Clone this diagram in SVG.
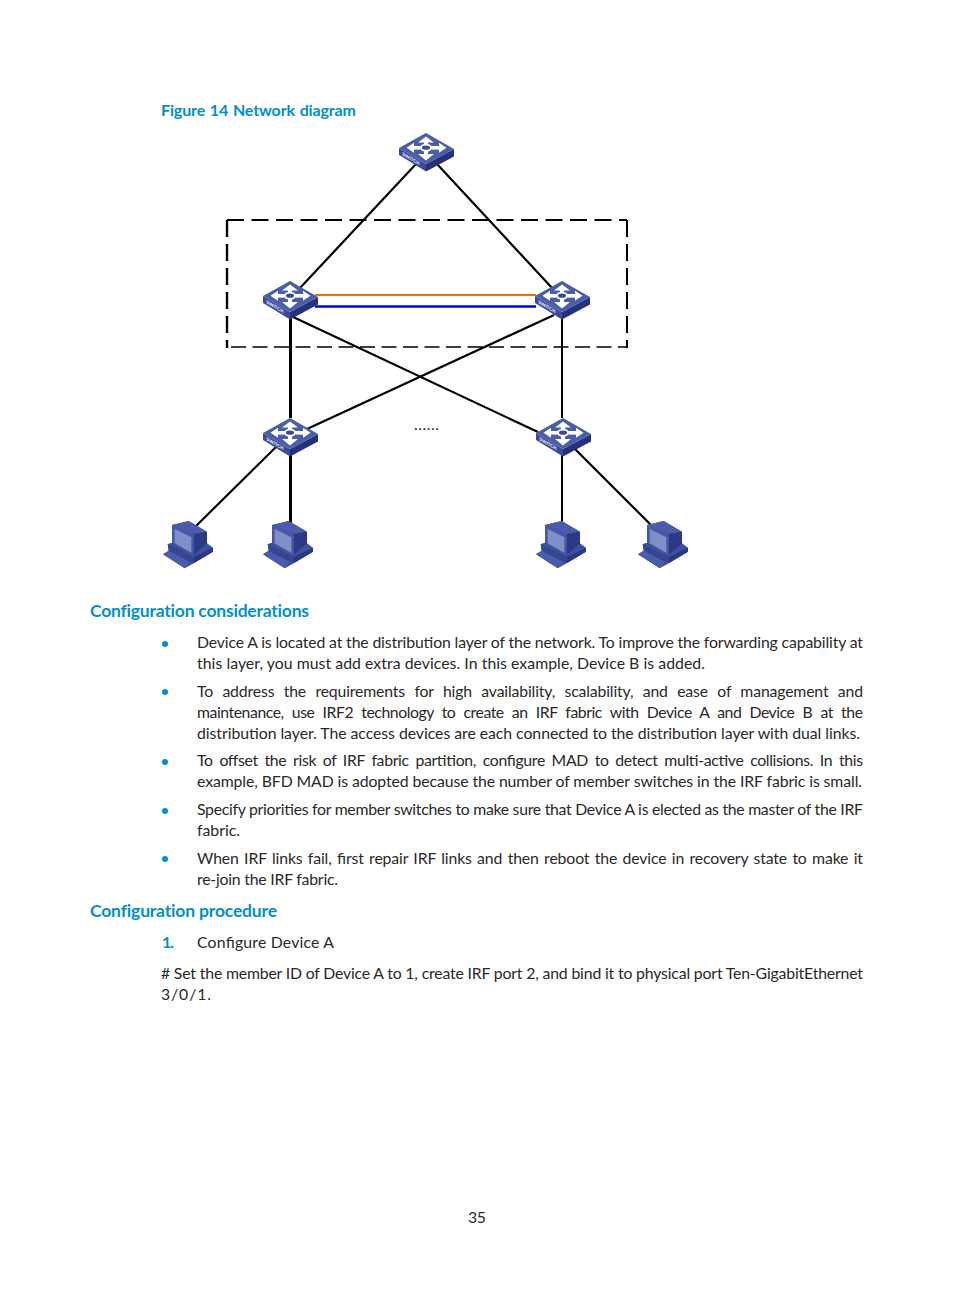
<svg xmlns="http://www.w3.org/2000/svg" width="954" height="1296" viewBox="0 0 954 1296">
<style>
text{font-family:"Lato","Liberation Sans",sans-serif;}
.b{font-size:15.800px;fill:#2b2829;}
.h{font-size:17.500px;fill:#0090d0;font-weight:700;}
.f{font-size:16px;fill:#0090d0;font-weight:700;}
.d{fill:#0090d0;}
.l{stroke:#000;fill:none;}
.swt{font-size:4.800px;font-weight:700;fill:#fff;letter-spacing:.2px;}
</style>
<defs>
<g id="sw">
<path d="M0 15 L27 31 L27 38.500 L0 22Z" fill="#3b4b9b"/>
<path d="M27 31 L55 16 L55 23.500 L27 38.500Z" fill="#25327a"/>
<path d="M0 15 L27 0 L55 16 L27 31Z" fill="#4a5da9"/>
<path d="M27 3.500 L35 9.500 H29 V11 H25 V9.500 H19Z M27 27.500 L35 21 H29 V18 H25 V21 H19Z M7.500 14.700 L15 9.700 V13 H21 V16.500 H15 V19.700Z M47.500 14.700 L40 9.700 V13 H33 V16.500 H40 V19.700Z" fill="#fff"/>
<path d="M27 8V22M14 14.700H41" stroke="#fff" stroke-width="3.200" fill="none"/>
<ellipse cx="27" cy="14.700" rx="5" ry="3.100" fill="#3b4b9b" stroke="#fff" stroke-width="1.900"/>
<text class="swt" transform="matrix(.86 .5 0 1 3.500 22.500)">SWITCH</text>
</g>
<g id="pc">
<path d="M9 4 L25.700 0 L44 10.700 V22.300 L50 26.700 V30.700 L30.700 42.300 L21.700 47.300 L0 33.300 L5.700 29.700 L4.700 23 L9 21.700Z" fill="#3d4f9f"/>
<path d="M9 4 L25.700 0 L44 10.700 L30.700 13Z" fill="#4a5cab"/>
<path d="M30.700 13 L44 10.700 V22.300 L30.700 34Z" fill="#2c3a85"/>
<path d="M9 4 L30.700 13 V34 L9 21.700Z" fill="#4658a8"/>
<path d="M11.700 8 L28.300 16.300 V31.700 L11.700 22.300Z" fill="#7f8fc8"/>
<path d="M30.700 36 L50 26.700 V30.700 L30.700 42.300Z" fill="#2a387f"/>
<path d="M4.700 23 L30.700 36 V42.300 L5.700 29.700Z" fill="#35468f"/>
<path d="M0 33.300 L5.700 29.700 L27 41 L21.700 47.300Z" fill="#4a5cab"/>
</g>
</defs>
<g id="connectors">
<path class="l" stroke-width="2.200" d="M416 164 L300 288M437 164 L553 289M291 316 L538 432M554 315 L307 429M276 447 L195 527M574 448 L652 526"/>
<path class="l" stroke-width="3" d="M290.500 316V418M290.500 455V523"/>
<path class="l" stroke-width="2" d="M562 318V418M562 455V523"/>
<path d="M315 295H536" stroke="#ff6600" stroke-width="2" fill="none"/>
<path d="M315 306.500H536" stroke="#0000f0" stroke-width="2.600" fill="none"/>
<path class="l" stroke-width="2" stroke-dasharray="17 7.500" d="M227 220H627"/>
<path class="l" stroke-width="1.500" stroke-dasharray="15 6.500" d="M231 347H627"/>
<path class="l" stroke-width="2.400" stroke-dasharray="17 7" d="M227 220V348"/>
<path class="l" stroke-width="2" stroke-dasharray="17 7" d="M627 220V348"/>
</g>
<g id="sw-top"><use href="#sw" x="399" y="133"/></g>
<g id="sw-a"><use href="#sw" x="263" y="281"/></g>
<g id="sw-b"><use href="#sw" x="535" y="281"/></g>
<g id="sw-c"><use href="#sw" x="263" y="418"/></g>
<g id="sw-d"><use href="#sw" x="536" y="418"/></g>
<g id="pc1"><use href="#pc" x="163" y="521"/></g>
<g id="pc2"><use href="#pc" x="263" y="521"/></g>
<g id="pc3"><use href="#pc" x="536" y="521"/></g>
<g id="pc4"><use href="#pc" x="638" y="521"/></g>
<text x="414" y="430" class="b" textLength="25">......</text>
<text x="161" y="116" class="f" textLength="195" word-spacing="1">Figure 14 Network diagram</text>
<text x="90" y="617" class="h" textLength="219" style="font-variant-ligatures:none">Configuration considerations</text>
<text x="90" y="917" class="h" textLength="187" style="font-variant-ligatures:none">Configuration procedure</text>
<g id="bullets" class="d">
<circle cx="165" cy="644" r="3"/><circle cx="165" cy="692" r="3"/><circle cx="165" cy="762" r="3"/><circle cx="165" cy="811" r="3"/><circle cx="165" cy="859" r="3"/>
</g>
<g class="b">
<text x="197" y="648" textLength="666">Device A is located at the distribution layer of the network. To improve the forwarding capability at</text>
<text x="197" y="669" textLength="508">this layer, you must add extra devices. In this example, Device B is added.</text>
<text x="197" y="697" textLength="666" word-spacing="5.500">To address the requirements for high availability, scalability, and ease of management and</text>
<text x="197" y="718" textLength="666" word-spacing="4.500">maintenance, use IRF2 technology to create an IRF fabric with Device A and Device B at the</text>
<text x="197" y="739" textLength="663">distribution layer. The access devices are each connected to the distribution layer with dual links.</text>
<text x="197" y="766" textLength="666" word-spacing="3">To offset the risk of IRF fabric partition, configure MAD to detect multi-active collisions. In this</text>
<text x="197" y="787" textLength="665">example, BFD MAD is adopted because the number of member switches in the IRF fabric is small.</text>
<text x="197" y="815" textLength="666">Specify priorities for member switches to make sure that Device A is elected as the master of the IRF</text>
<text x="197" y="836" textLength="43">fabric.</text>
<text x="197" y="864" textLength="666" word-spacing="1.500">When IRF links fail, first repair IRF links and then reboot the device in recovery state to make it</text>
<text x="197" y="885" textLength="141">re-join the IRF fabric.</text>
<text x="197" y="948" textLength="137">Configure Device A</text>
<text x="161" y="979" textLength="702"># Set the member ID of Device A to 1, create IRF port 2, and bind it to physical port Ten-GigabitEthernet</text>
<text x="161" y="1000" textLength="50">3/0/1.</text>
<text x="468" y="1223" textLength="18">35</text>
</g>
<text x="162" y="948" style="font-size:16px;fill:#0090d0;font-weight:700" textLength="12">1.</text>
</svg>
